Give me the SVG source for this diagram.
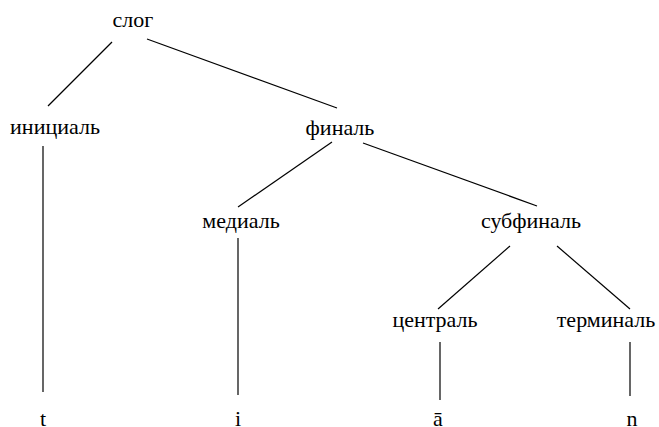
<svg xmlns="http://www.w3.org/2000/svg" width="659" height="427" viewBox="0 0 659 427">
<style>
text{font-family:'Liberation Serif','Tinos','Times New Roman','DejaVu Serif',serif;font-size:22px;fill:#000;text-anchor:middle}
.c line{stroke:#000;stroke-width:1.2;fill:none}
</style>
<rect width="659" height="427" fill="#fff"/>
<g class="c" id="connectors">
<line x1="112" y1="42" x2="48" y2="106"/>
<line x1="147" y1="39" x2="337" y2="108"/>
<line x1="43" y1="146" x2="43" y2="392"/>
<line x1="332" y1="142" x2="238" y2="207"/>
<line x1="363" y1="143" x2="537" y2="206"/>
<line x1="238" y1="238" x2="238" y2="395"/>
<line x1="510" y1="246" x2="438" y2="309"/>
<line x1="557" y1="246" x2="630" y2="309"/>
<line x1="440" y1="342" x2="440" y2="400"/>
<line x1="630" y1="342" x2="630" y2="396"/>
</g>
<g id="slog"><text x="133" y="27" font-family="Liberation Serif, serif">слог</text></g>
<g id="initial"><text x="55" y="134" font-family="Liberation Serif, serif">инициаль</text></g>
<g id="final"><text x="340" y="135" font-family="Liberation Serif, serif">финаль</text></g>
<g id="medial"><text x="241" y="228" font-family="Liberation Serif, serif">медиаль</text></g>
<g id="subfinal"><text x="531" y="228" font-family="Liberation Serif, serif">субфиналь</text></g>
<g id="central"><text x="435" y="327" font-family="Liberation Serif, serif">централь</text></g>
<g id="terminal"><text x="606" y="327" font-family="Liberation Serif, serif">терминаль</text></g>
<g id="t"><text x="43" y="426" font-family="Liberation Serif, serif">t</text></g>
<g id="i"><text x="238" y="426" font-family="Liberation Serif, serif">i</text></g>
<g id="a"><text x="438" y="426" font-family="Liberation Serif, serif">ā</text></g>
<g id="n"><text x="632" y="426" font-family="Liberation Serif, serif">n</text></g>
</svg>
